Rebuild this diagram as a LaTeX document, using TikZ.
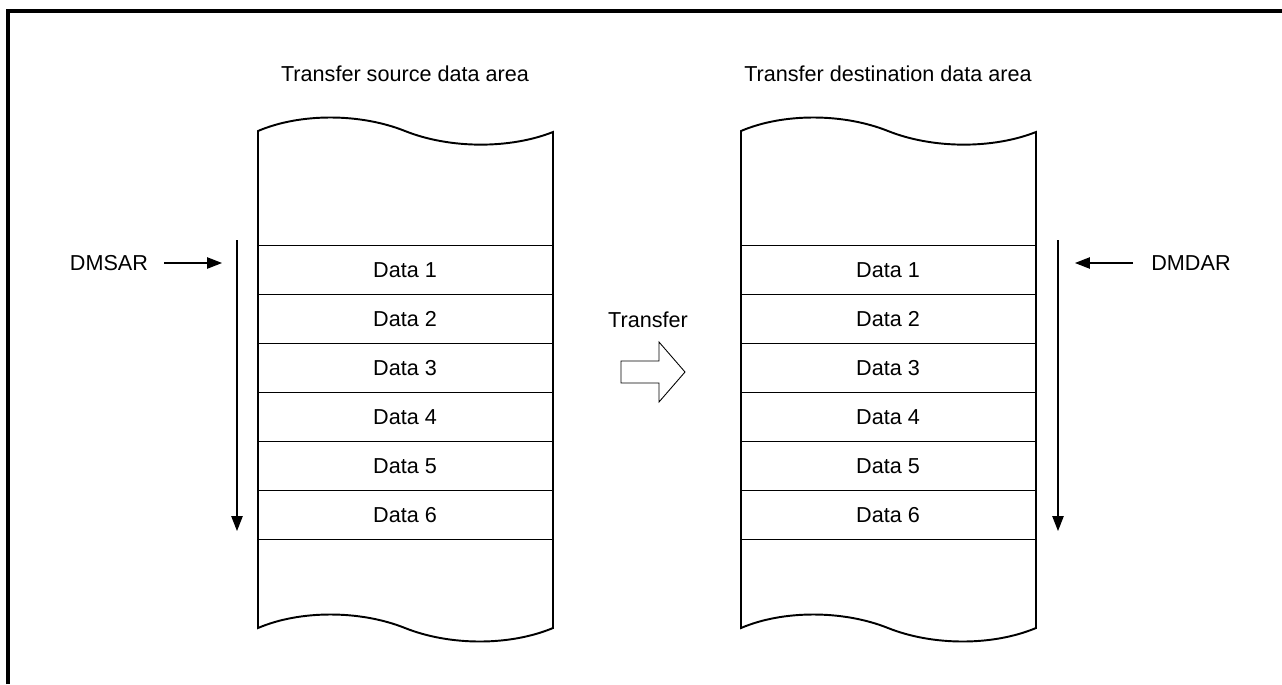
\documentclass[tikz,border=0pt]{standalone}
\usepackage{fontspec}
\setmainfont{Liberation Sans}
\usetikzlibrary{arrows.meta,positioning}

\begin{document}
\begin{tikzpicture}[
  x=0.02cm, y=-0.02cm,
  >={Triangle[length=8.5pt,width=6.5pt]},
  every node/.style={font=\fontsize{12.3}{14}\selectfont},
  column/.style={line width=1.1pt, black},
  databox/.style={draw=black, line width=0.5pt, minimum width=5.9cm,
    minimum height=0.98cm, inner sep=0pt, anchor=north},
  pointer/.style={->, line width=0.6pt}
]
\useasboundingbox (0,0) rectangle (1282,684);

% outer frame
\draw[line width=2pt] (8,684) |- (1282,11);

\def\srcx{405}
\def\dstx{888}

% column titles
\node (srcTitle) at (\srcx,74) {Transfer source data area};
\node (dstTitle) at (\dstx,74) {Transfer destination data area};

% column outlines
\foreach \cx in {\srcx,\dstx} {
  \draw[column] (\cx-147,131) .. controls (\cx-105,113) and (\cx-45,113) .. (\cx,131)
    .. controls (\cx+45,149) and (\cx+105,149) .. (\cx+148,132) -- (\cx+148,628)
    .. controls (\cx+105,646) and (\cx+45,646) .. (\cx,628)
    .. controls (\cx-45,610) and (\cx-105,610) .. (\cx-147,628) -- cycle;
}

% data rows
\foreach \i in {1,...,6} {
  \node[databox] (src\i) at (\srcx,196+49*\i) {Data \i};
  \node[databox] (dst\i) at (\dstx,196+49*\i) {Data \i};
}

% address registers
\node (dmsar) at (109,263) {DMSAR};
\node (dmdar) at (1191,263) {DMDAR};
\coordinate (srcIn) at (222,263);
\coordinate (dstIn) at (1075,263);
\draw[pointer] (dmsar.east) ++(10,0) coordinate (dmsarStart) -- (srcIn);
\draw[pointer] (dmdar.west) ++(-12,0) coordinate (dmdarStart) -- (dstIn);

% direction of increment
\coordinate (srcTop) at (237,240);
\coordinate (srcBot) at (237,531);
\coordinate (dstTop) at (1058,240);
\coordinate (dstBot) at (1058,531);
\draw[pointer] (srcTop) -- (srcBot);
\draw[pointer] (dstTop) -- (dstBot);

% transfer arrow
\node (xferLabel) at (648,320) {Transfer};
\draw[line width=0.5pt] (621,361) -- (659,361) -- (659,342) -- (685,372)
  -- (659,402) -- (659,383) -- (621,383) -- cycle;

\end{tikzpicture}
\end{document}
